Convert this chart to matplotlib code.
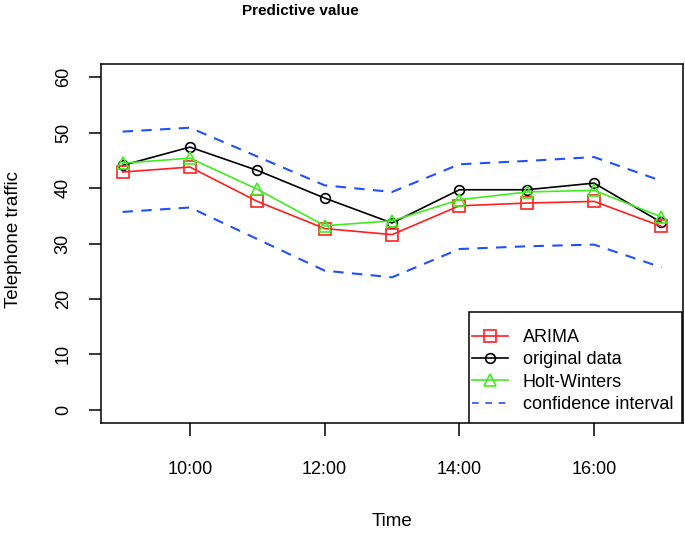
import matplotlib
matplotlib.use("Agg")
import matplotlib.pyplot as plt
from matplotlib.patches import Rectangle

plt.rcParams['font.family'] = ['Liberation Sans', 'DejaVu Sans']

# hours of the day
hours = [9, 10, 11, 12, 13, 14, 15, 16, 17]
original = [44.1, 47.4, 43.2, 38.2, 33.7, 39.7, 39.7, 40.9, 33.8]
arima = [42.9, 43.8, 37.6, 32.7, 31.6, 36.8, 37.3, 37.6, 33.1]
holt = [44.5, 45.4, 39.8, 33.2, 34.1, 37.9, 39.3, 39.6, 34.8]
ci_upper = [50.2, 50.9, 45.7, 40.5, 39.3, 44.3, 44.9, 45.6, 41.3]
ci_lower = [35.7, 36.5, 30.8, 25.1, 23.9, 29.0, 29.5, 29.8, 25.7]

tick_hours = [10, 12, 14, 16]
tick_labels = ["10:00", "12:00", "14:00", "16:00"]

red = '#FF2020'
green = '#40EE20'
blue = '#2050FF'

fig = plt.figure(figsize=(6.85, 5.36), dpi=100)
ax = fig.add_axes([101/685, 1-423/536, 582/685, 359/536])

ax.plot(hours, ci_upper, color=blue, lw=1.5, dashes=(5, 4))
ax.plot(hours, ci_lower, color=blue, lw=1.5, dashes=(5, 4))
l_orig, = ax.plot(hours, original, color='black', lw=1.2, marker='o',
                  ms=7, mfc='none', mew=1.2)
l_arima, = ax.plot(hours, arima, color=red, lw=1.2, marker='s',
                   ms=8, mfc='none', mew=1.2)
l_holt, = ax.plot(hours, holt, color=green, lw=1.2, marker='^',
                  ms=9, mfc='none', mew=1.2)
l_ci, = ax.plot([], [], color=blue, lw=1.2, dashes=(4, 4))

ax.set_xlim(8.68, 17.32)
ax.set_ylim(-2.4, 62.4)
ax.set_xticks(tick_hours)
ax.set_xticklabels(tick_labels)
ax.set_yticks([0, 10, 20, 30, 40, 50, 60])
ax.tick_params(axis='both', direction='out', length=9, width=1.1,
               labelsize=13)
ax.tick_params(axis='x', pad=18)
ax.tick_params(axis='y', pad=12)
for lab in ax.get_yticklabels():
    lab.set_rotation(90)
    lab.set_va('center')
for sp in ax.spines.values():
    sp.set_linewidth(1.1)

# legend box drawn by hand (R style: tight on the left)
box = Rectangle((0.632, 0.0), 0.366, 0.309, transform=ax.transAxes,
                facecolor='white', edgecolor='black', lw=1.1, zorder=4.5)
ax.add_patch(box)
leg = ax.legend([l_arima, l_orig, l_holt, l_ci],
                ["ARIMA", "original data", "Holt-Winters", "confidence interval"],
                loc='lower right', bbox_to_anchor=(1.0, 0.0), borderaxespad=0,
                fontsize=13, frameon=False,
                handlelength=2.0, handletextpad=0.8, labelspacing=0.3,
                borderpad=0.55)

fig.text(300/685, 1-11/536, "Predictive value", ha='center', va='center',
         fontsize=11, fontweight='bold')
fig.text(392/685, 1-522/536, "Time", ha='center', va='center', fontsize=13.5)
fig.text(14/685, 1-240/536, "Telephone traffic", ha='center', va='center',
         rotation=90, fontsize=13.5)

fig.savefig("out.png", dpi=100)
